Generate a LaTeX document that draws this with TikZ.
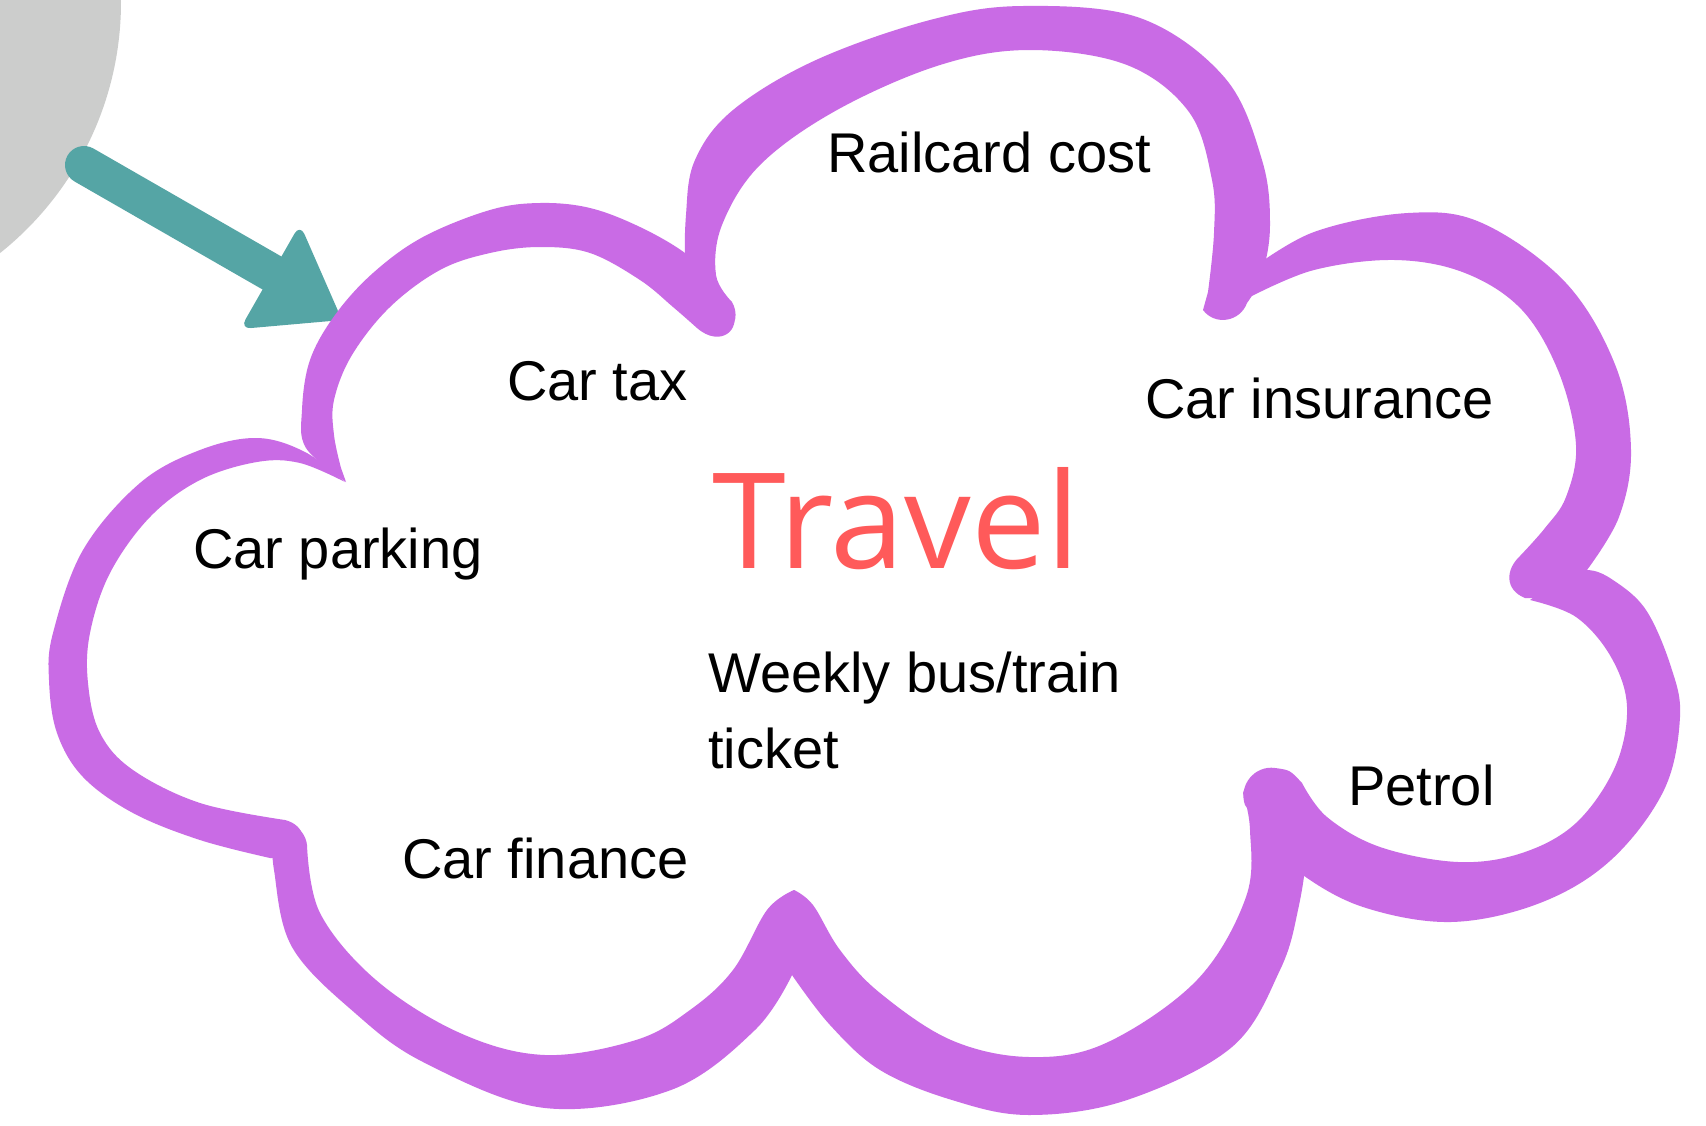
\documentclass[tikz,border=0pt]{standalone}
\usepackage{fontspec}
\setmainfont{Liberation Sans}
\newfontfamily\travelfont{Open Sans}
\definecolor{cloudc}{RGB}{201,107,229}
\definecolor{arrowc}{RGB}{85,165,165}
\definecolor{grayc}{RGB}{204,205,204}
\definecolor{travelc}{RGB}{255,90,90}
\begin{document}
\begin{tikzpicture}[x=1pt,y=-1pt,
  lobe/.style={fill=cloudc},
  sm/.style={smooth, tension=0.6},
  lbl/.style={anchor=base west, inner sep=0pt, text=black, font=\fontsize{56}{67}\selectfont}]
\useasboundingbox (0,0) rectangle (1706,1125);
\clip (0,0) rectangle (1706,1125);
\fill[white] (0,0) rectangle (1706,1125);
% grey circle
\fill[grayc] (-200,2) circle[radius=321];
% teal arrow
\coordinate (tail) at (84,165);
\coordinate (neck) at (272,273);
\draw[arrowc, line width=38pt, line cap=round] (tail) -- (neck);
\fill[arrowc, rounded corners=11pt] (300,224) -- (342,320) -- (240,329) -- cycle;
% ---- cloud lobes ----
% A: car tax
\fill[lobe] plot[sm] coordinates {(346,482) (306,448) (302,410) (310,360) (335,315)
   (373,273) (423,237) (490,210) (540,203) (590,208) (640,227) (685,253) (712,280) (732,310)}
  .. controls (742,330) and (720,348) .. (697,328)
  -- plot[sm] coordinates {(697,328) (673,307) (640,280) (590,253) (540,247) (490,253)
   (440,270) (390,307) (352,355) (334,400) (334,435) (341,468)} -- cycle;
% B: railcard (top)
\fill[lobe] plot[sm] coordinates {(697,327) (686,275) (686,215) (695,160) (733,110) (816,60)
   (930,20) (1023,6) (1140,18) (1225,78) (1262,160) (1270,225) (1262,275) (1247,303)}
  .. controls (1240,322) and (1215,326) .. (1203,310)
  -- plot[sm] coordinates {(1208,292) (1214,233) (1212,180) (1189,112) (1127,65) (1030,50)
   (940,65) (837,110) (760,165) (722,225) (716,275) (732,302)}
  .. controls (745,325) and (720,348) .. (697,327) -- cycle;
% C: car insurance
\fill[lobe] plot[sm] coordinates {(1250,270) (1314,232) (1408,213) (1482,223) (1566,283)
   (1616,367) (1631,450) (1619,517) (1587,570)}
  -- (1545,598) -- (1525,598) .. controls (1505,590) and (1505,570) .. (1520,556)
  -- plot[sm] coordinates {(1520,556) (1545,528) (1566,497) (1576,445) (1559,373)
   (1522,310) (1465,273) (1395,260) (1314,270) (1250,297)} -- cycle;
% D: petrol
\fill[lobe] plot[sm] coordinates {(1560,578) (1587,570) (1613,580) (1646,610) (1671,667)
   (1680,717) (1664,790) (1611,860) (1540,903) (1451,922) (1363,907) (1300,873) (1270,840)}
  -- (1245,805) .. controls (1238,785) and (1255,765) .. (1275,768)
  .. controls (1290,770) .. (1302,783)
  -- plot[sm] coordinates {(1302,783) (1327,817) (1380,847) (1458,862) (1522,853)
   (1576,823) (1615,767) (1627,707) (1611,657) (1576,617) (1530,600)} -- cycle;
% E: bottom middle
\fill[lobe] plot[sm] coordinates {(1300,790) (1306,850) (1298,910) (1280,970) (1232,1047)
   (1127,1100) (1029,1115) (952,1100) (880,1070) (830,1025) (792,975)}
  -- (780,925) -- plot[sm] coordinates {(794,890) (813,905) (840,950) (880,993) (951,1040)
   (1029,1057) (1106,1043) (1197,980) (1246,897) (1250,830) (1243,793)}
  .. controls (1245,780) and (1285,780) .. (1300,790) -- cycle;
% F: car finance
\fill[lobe] plot[sm] coordinates {(794,890) (767,910) (733,970) (690,1010) (636,1040)
   (545,1055) (460,1033) (376,980) (320,913) (307,845)}
  .. controls (305,825) and (280,815) .. (273,835)
  -- plot[sm] coordinates {(273,835) (274,870) (292,947) (355,1013) (425,1063) (545,1108)
   (671,1090) (755,1030) (792,975)} -- (800,930) -- cycle;
% G: car parking
\fill[lobe] plot[sm] coordinates {(345,482) (305,452) (257,438) (200,450) (140,483)
   (83,550) (53,633) (49,680) (57,733) (83,777) (133,813) (200,840) (270,858)}
  -- (292,858) .. controls (310,845) and (305,825) .. (285,820)
  -- plot[sm] coordinates {(285,820) (200,803) (133,770) (100,733) (88,683) (90,633)
   (110,573) (150,517) (200,480) (257,462) (300,463) (345,482)} -- cycle;
% ---- labels ----
\node[lbl] (rail) at (827,172) {Railcard cost};
\node[lbl] (tax) at (507,400) {Car tax};
\node[lbl] (ins) at (1145,418) {Car insurance};
\node[lbl] (park) at (193,568) {Car parking};
\node[anchor=base west, inner sep=0pt, text=travelc, font=\travelfont\fontsize{133}{155}\selectfont] (travel) at (712,568) {Travel};
\node[lbl] (week) at (708,692) {Weekly bus/train};
\node[lbl] (ticket) at (708,768) {ticket};
\node[lbl] (petrol) at (1348,805) {Petrol};
\node[lbl] (fin) at (402,878) {Car finance};
\end{tikzpicture}
\end{document}
